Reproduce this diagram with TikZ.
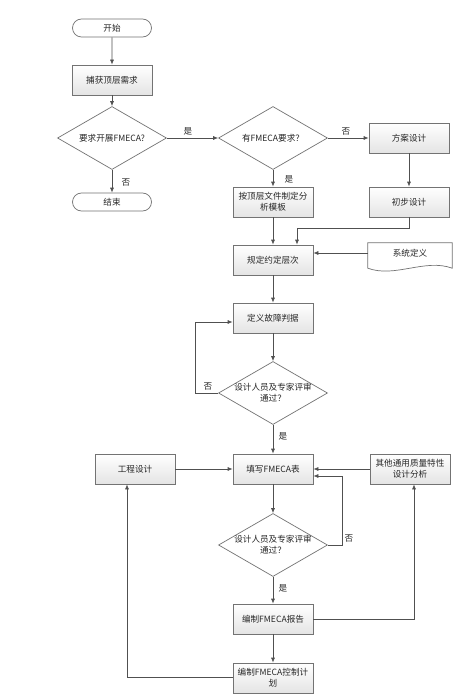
\documentclass[tikz,border=0pt]{standalone}
\usepackage{fontspec}
\setmainfont{Noto Sans CJK SC}
\usetikzlibrary{arrows.meta,shapes.geometric,shapes.misc}
\definecolor{bord}{RGB}{115,115,115}
\definecolor{linec}{RGB}{80,80,80}
\definecolor{boxbot}{RGB}{228,228,228}
\tikzset{
  base/.style={font=\fontsize{8.6}{11}\selectfont, text=black!85, align=center, inner sep=1pt},
  box/.style={base, rectangle, draw=bord, line width=0.7pt, top color=white, bottom color=boxbot, minimum width=80pt, minimum height=30pt},
  term/.style={base, rounded rectangle, draw=bord, line width=0.7pt, fill=white, minimum width=81pt, minimum height=18pt},
  dec/.style={base, diamond, draw=bord, line width=0.7pt, fill=white, minimum width=109pt, minimum height=63pt, inner sep=0pt},
  docnode/.style={base, minimum width=84pt, minimum height=20pt},
  arr/.style={draw=linec, line width=0.7pt, -{Latex[length=5pt,width=4pt]}},
  lab/.style={font=\fontsize{8.6}{11}\selectfont, text=black!85, inner sep=0pt}
}
\begin{document}
\begin{tikzpicture}[x=1pt,y=-1pt]
\useasboundingbox[fill=white] (0,0) rectangle (471,698);
% left column
\node[term] (start) at (112,28) {开始};
\node[box] (cap) at (112,80) {捕获顶层需求};
\node[dec, label={[base]center:要求开展FMECA?}] (d1) at (112,138) {};
\node[term] (end) at (112,202) {结束};
% middle column
\node[dec, label={[base]center:有FMECA要求？}] (d2) at (273,138) {};
\node[box] (tpl) at (273,202) {按顶层文件制定分\\析模板};
\node[box] (rule) at (273,260) {规定约定层次};
\node[box] (def) at (273,318) {定义故障判据};
\node[dec, label={[base]center:设计人员及专家评审\\通过？}] (d3) at (273,393) {};
\node[box] (fill) at (273,469) {填写FMECA表};
\node[dec, label={[base]center:设计人员及专家评审\\通过？}] (d4) at (273,545) {};
\node[box] (rep) at (273,619) {编制FMECA报告};
\node[box] (plan) at (273,678) {编制FMECA控制计\\划};
% right column
\node[box] (scheme) at (409,138) {方案设计};
\node[box] (prelim) at (409,202) {初步设计};
\node[docnode] (sys) at (410,253) {};
\draw[bord, line width=0.7pt, fill=white]
  ([yshift=-5pt]sys.south west) -- (sys.north west) -- (sys.north east) -- ([yshift=-5pt]sys.south east)
  .. controls ([xshift=-27pt,yshift=5pt]sys.south east) and ([xshift=27pt,yshift=-15pt]sys.south west) .. ([yshift=-5pt]sys.south west) -- cycle;
\node[base] at (sys) {系统定义};
\node[box] (eng) at (135,469) {工程设计};
\node[box] (other) at (410,469) {其他通用质量特性\\设计分析};
% connectors
\draw[arr] (start) -- (cap);
\draw[arr] (cap) -- (d1);
\draw[arr] (d1) -- (end);
\node[lab] at (126,182) {否};
\draw[arr] (d1.east) -- (d2.west);
\node[lab] at (188,131) {是};
\draw[arr] (d2.east) -- (scheme.west);
\node[lab] at (346,131) {否};
\draw[arr] (d2.south) -- (tpl.north);
\node[lab] at (289,179) {是};
\draw[arr] (scheme) -- (prelim);
\coordinate (c1) at (297,228);
\draw[arr] (prelim.south) |- (c1) -- (c1 |- rule.north);
\draw[arr] (tpl) -- (rule);
\draw[arr] (sys.west) -- (sys.west -| rule.east);
\draw[arr] (rule) -- (def);
\draw[arr] (def) -- (d3);
\coordinate (c2) at (195,393);
\draw[arr] (d3.west) -- (c2) |- ([yshift=-4pt]def.west);
\node[lab] at (208,386) {否};
\draw[arr] (d3.south) -- (fill.north);
\node[lab] at (283,436) {是};
\draw[arr] (eng) -- (fill);
\draw[arr] (other) -- (fill);
\draw[arr] (fill) -- (d4);
\coordinate (c3) at (342,545);
\draw[arr] (d4.east) -- (c3) |- ([yshift=-7pt]fill.east);
\node[lab] at (349,538) {否};
\draw[arr] (d4.south) -- (rep.north);
\node[lab] at (283,588) {是};
\draw[arr] (rep) -- (plan);
\coordinate (c4) at (414,619);
\draw[arr] (rep.east) -- (c4) -- (c4 |- other.south);
\coordinate (c5) at (127,677);
\draw[arr] (plan.west |- c5) -- (c5) -- (c5 |- eng.south);
\end{tikzpicture}
\end{document}
